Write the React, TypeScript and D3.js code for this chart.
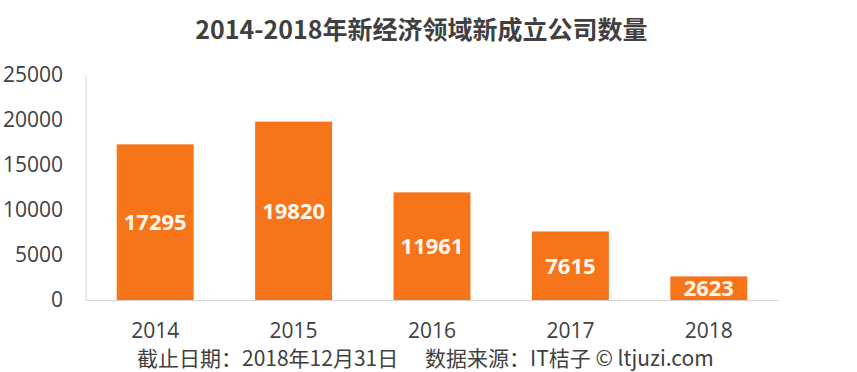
import React from "react";
import * as d3 from "d3";

const years = ["2014", "2015", "2016", "2017", "2018"];
const counts = [17295, 19820, 11961, 7615, 2623];
const yTicks = [0, 5000, 10000, 15000, 20000, 25000];
const title = "2014-2018年新经济领域新成立公司数量";
const footerLeft = "截止日期：2018年12月31日";
const footerRight = "数据来源：IT桔子 © ltjuzi.com";

const W = 857;
const H = 372;
const plot = { left: 86, right: 778, top: 75, bottom: 300 };

export default function App() {
  const x = d3
    .scaleBand<string>()
    .domain(years)
    .range([plot.left, plot.right])
    .paddingInner(0.444)
    .paddingOuter(0.222);
  const y = d3.scaleLinear().domain([0, 25000]).range([plot.bottom, plot.top]);
  const cjk = "'Noto Sans CJK SC', 'Noto Sans', sans-serif";
  const latin = "'Open Sans', 'Noto Sans', sans-serif";
  const textColor = "#404040";

  return (
    <svg
      width={W}
      height={H}
      viewBox={`0 0 ${W} ${H}`}
      style={{ position: "absolute", left: 0, top: 0, background: "#fff" }}
    >
      <rect x={0} y={0} width={W} height={H} fill="#ffffff" />
      <text
        x={421.5}
        y={39}
        textAnchor="middle"
        fontFamily={cjk}
        fontWeight={700}
        fontSize={25}
        fill={textColor}
      >
        {title}
      </text>
      <line x1={plot.left} x2={plot.left} y1={plot.top} y2={plot.bottom} stroke="#d9d9d9" strokeWidth={1} />
      {yTicks.map((t) => (
        <text
          key={t}
          x={63}
          y={y(t)}
          dy="0.35em"
          textAnchor="end"
          fontFamily={latin}
          fontSize={21}
          fill={textColor}
        >
          {t}
        </text>
      ))}
      {years.map((yr, i) => {
        const x0 = x(yr)!;
        const top = y(counts[i]);
        return (
          <g key={yr}>
            <rect x={x0} y={top} width={x.bandwidth()} height={plot.bottom - top} fill="#F6751B" />
            <text
              x={x0 + x.bandwidth() / 2}
              y={(top + plot.bottom) / 2}
              dy="0.36em"
              textAnchor="middle"
              fontFamily={latin}
              fontWeight={700}
              fontSize={22}
              fill="#FFF8EE"
            >
              {counts[i]}
            </text>
            <text
              x={x0 + x.bandwidth() / 2}
              y={338}
              textAnchor="middle"
              fontFamily={latin}
              fontSize={21}
              fill={textColor}
            >
              {yr}
            </text>
          </g>
        );
      })}
      <line x1={plot.left} x2={plot.right} y1={plot.bottom + 0.5} y2={plot.bottom + 0.5} stroke="#d0d0d0" strokeWidth={1} />
      <text x={137} y={366} fontFamily={cjk} fontSize={21} fill={textColor}>
        {footerLeft}
      </text>
      <text x={425} y={366} fontFamily={cjk} fontSize={21} fill={textColor}>
        {footerRight}
      </text>
    </svg>
  );
}
